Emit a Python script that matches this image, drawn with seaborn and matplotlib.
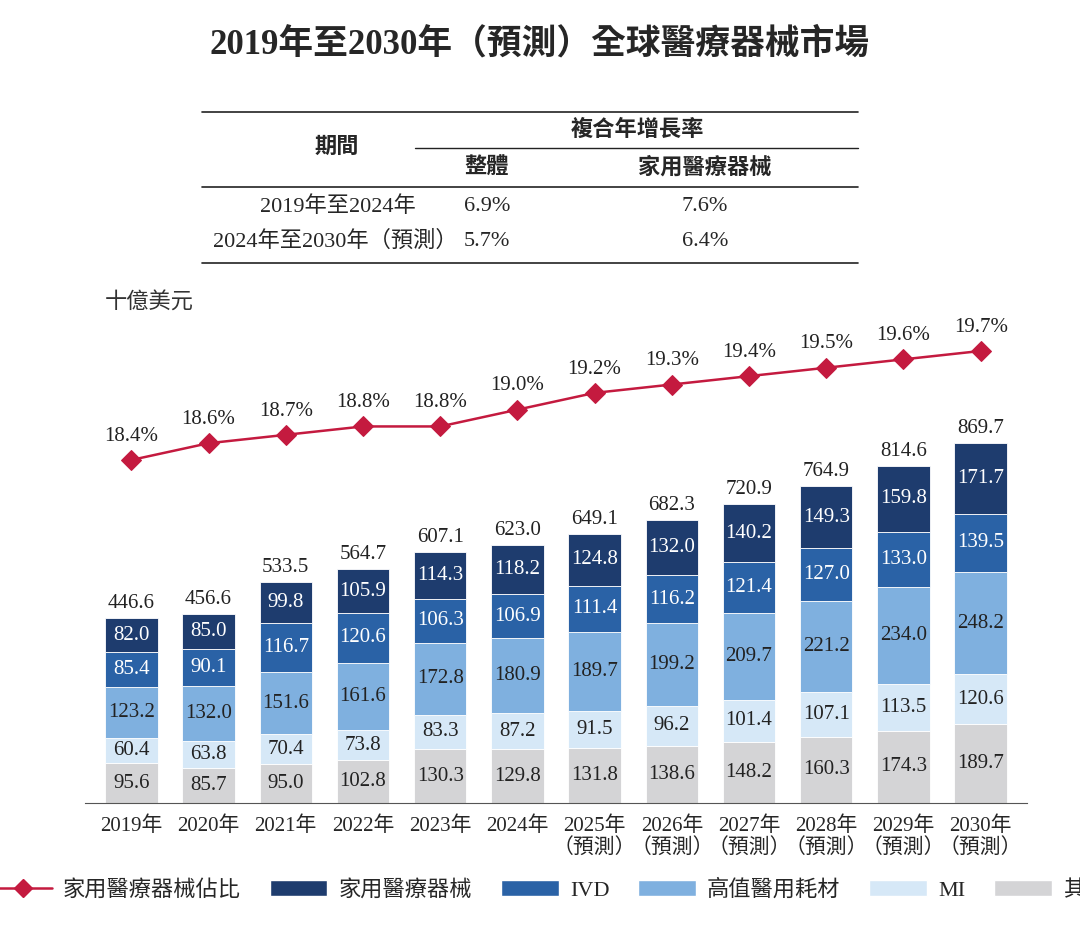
import matplotlib
matplotlib.use("Agg")
import matplotlib.pyplot as plt
import pandas as pd
import seaborn as sns
from matplotlib.lines import Line2D
from matplotlib.patches import Patch

sns.set_style("white")
plt.rcParams["font.family"] = ["Liberation Serif", "Noto Sans CJK TC", "DejaVu Sans"]

# Data
years = ["2019年", "2020年", "2021年", "2022年", "2023年", "2024年",
         "2025年\n（預測）", "2026年\n（預測）", "2027年\n（預測）",
         "2028年\n（預測）", "2029年\n（預測）", "2030年\n（預測）"]
other = [95.6, 85.7, 95.0, 102.8, 130.3, 129.8, 131.8, 138.6, 148.2, 160.3, 174.3, 189.7]
mi = [60.4, 63.8, 70.4, 73.8, 83.3, 87.2, 91.5, 96.2, 101.4, 107.1, 113.5, 120.6]
high_value = [123.2, 132.0, 151.6, 161.6, 172.8, 180.9, 189.7, 199.2, 209.7, 221.2, 234.0, 248.2]
ivd = [85.4, 90.1, 116.7, 120.6, 106.3, 106.9, 111.4, 116.2, 121.4, 127.0, 133.0, 139.5]
home = [82.0, 85.0, 99.8, 105.9, 114.3, 118.2, 124.8, 132.0, 140.2, 149.3, 159.8, 171.7]
totals = [446.6, 456.6, 533.5, 564.7, 607.1, 623.0, 649.1, 682.3, 720.9, 764.9, 814.6, 869.7]
share = [18.4, 18.6, 18.7, 18.8, 18.8, 19.0, 19.2, 19.3, 19.4, 19.5, 19.6, 19.7]

layers = [("其他", other, "#d4d4d6", "#222222"),
          ("MI", mi, "#d6e8f7", "#222222"),
          ("高值醫用耗材", high_value, "#7fb0df", "#222222"),
          ("IVD", ivd, "#2a62a6", "white"),
          ("家用醫療器械", home, "#1e3c6e", "white")]

fig = plt.figure(figsize=(10.8, 9.25), dpi=100)
W, H = 1080, 925
ax = fig.add_axes([85 / W, (H - 803) / H, 942 / W, 473 / H])

x = list(range(len(years)))
bottom = [0.0] * len(years)
for name, vals, color, tcol in layers:
    df = pd.DataFrame({"x": x, "v": vals})
    ax.bar(df["x"], df["v"], bottom=bottom, width=0.68, color=color, edgecolor="white", linewidth=0.6)
    for i, v in enumerate(vals):
        ax.text(i, bottom[i] + v / 2, f"{v:.1f}", ha="center", va="center",
                color=tcol, fontsize=15)
    bottom = [b + v for b, v in zip(bottom, vals)]
for i, t in enumerate(totals):
    ax.text(i, t + 12, f"{t:.1f}", ha="center", va="bottom", fontsize=15, color="#222222")

ax.set_xlim(-0.6, 11.6)
ax.set_ylim(0, 1142)
ax.set_xticks(x)
ax.set_xticklabels(years, fontsize=15, linespacing=1.1)
ax.set_yticks([])
for s in ["top", "right", "left"]:
    ax.spines[s].set_visible(False)
ax.spines["bottom"].set_color("#555555")
ax.tick_params(axis="x", length=0, pad=10)

ax2 = ax.twinx()
line_df = pd.DataFrame({"x": x, "share": share})
sns.lineplot(data=line_df, x="x", y="share", ax=ax2, color="#c41a3f", marker="D",
             markersize=10, markeredgecolor="#c41a3f", linewidth=1.8)
for i, s in enumerate(share):
    ax2.text(i, s + 0.17, f"{s:.1f}%", ha="center", va="bottom", fontsize=15, color="#222222")
ax2.set_ylim(14.31, 19.95)
ax2.set_yticks([])
ax2.set_xlabel("")
ax2.set_ylabel("")
for s in ax2.spines.values():
    s.set_visible(False)

fig.text(105 / W, 1 - 303 / H, "十億美元", fontsize=16, style="italic", va="center", color="#333333")

# Title
fig.text(0.5, 1 - 45 / H, "2019年至2030年（預測）全球醫療器械市場", ha="center", va="center",
         fontsize=25, fontweight="bold")

# Table
def hline(y, x0, x1, lw=1.2):
    fig.add_artist(Line2D([x0 / W, x1 / W], [1 - y / H, 1 - y / H], color="#222222", lw=lw))

hline(112, 202, 858)
hline(148, 415, 858, 1.0)
hline(187, 202, 858)
hline(263, 202, 858)
def ttext(px, py, s, ha="center", bold=False):
    fig.text(px / W, 1 - py / H, s, ha=ha, va="center", fontsize=16,
             fontweight="bold" if bold else "normal")
ttext(337, 148, "期間", bold=True)
ttext(637, 130, "複合年增長率", bold=True)
ttext(487, 168, "整體", bold=True)
ttext(705, 168, "家用醫療器械", bold=True)
ttext(416, 207, "2019年至2024年", ha="right")
ttext(487, 207, "6.9%")
ttext(705, 207, "7.6%")
ttext(458, 241, "2024年至2030年（預測）", ha="right")
ttext(487, 241, "5.7%")
ttext(705, 241, "6.4%")

# Legend
handles = [Line2D([0], [0], color="#c41a3f", marker="D", markersize=9, lw=1.8)]
labels = ["家用醫療器械佔比"]
for name, vals, color, tcol in reversed(layers):
    handles.append(Patch(facecolor=color))
    labels.append(name)
fig.legend(handles, labels, loc="center", bbox_to_anchor=(0.51, 1 - 890 / H), ncol=6,
           frameon=False, fontsize=16, handlelength=2.6, columnspacing=1.3, handletextpad=0.5)

fig.savefig("out.png", dpi=100)
